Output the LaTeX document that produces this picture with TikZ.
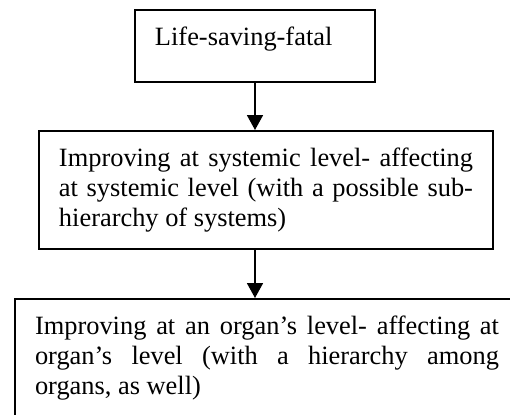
\documentclass[tikz,border=0pt]{standalone}
\usepackage{fontspec}
\setmainfont{Liberation Serif}
\usetikzlibrary{calc,arrows.meta}

\begin{document}
\begin{tikzpicture}[
		x=1pt, y=1pt,
		every node/.style={font=\fontsize{13.2}{15}\selectfont},
		box/.style={draw, line width=1pt, anchor=north west,
			inner xsep=10pt, inner ysep=7pt, align=justify},
		link/.style={-{Triangle[length=7.5pt,width=8pt]}, line width=0.9pt}]

		\useasboundingbox (0,0) rectangle (255,-207);
		\clip (0,0) rectangle (255,-207);

		\node[box, text width=100pt, align=left, text depth=11.5pt] (fatal) at (67,-4.5) {\strut Life-saving-fatal};
		\node[box, text width=207pt] (systemic) at (19,-65) {\strut Improving at systemic level- affecting\linebreak at systemic level (with a possible sub-\linebreak hierarchy of systems)\strut};
		\node[box, text width=232pt] (organ) at (7,-149) {\strut Improving at an organ’s level- affecting at\linebreak organ’s level (with a hierarchy among\linebreak organs, as well)\strut};

		\draw[link] (fatal.south) -- (fatal.south |- systemic.north);
		\draw[link] (fatal.south |- systemic.south) -- (fatal.south |- organ.north);

\end{tikzpicture}
\end{document}
